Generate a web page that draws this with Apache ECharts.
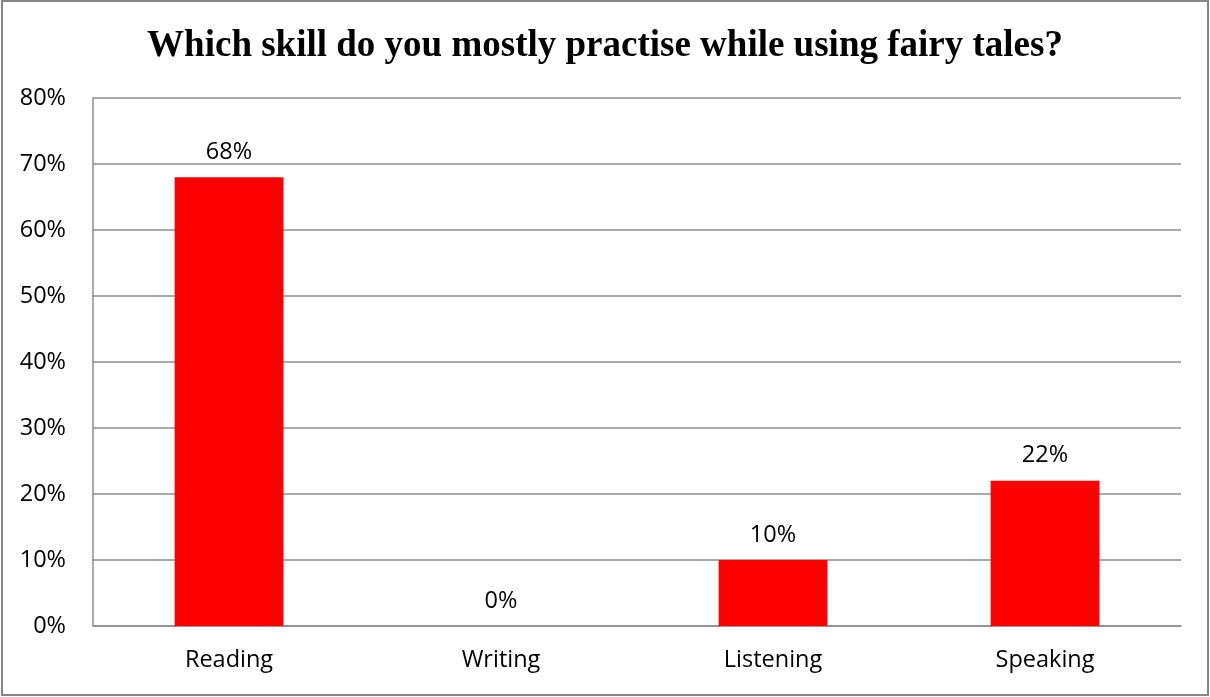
<!DOCTYPE html>
<html>
<head>
<meta charset="utf-8">
<script src="https://cdn.jsdelivr.net/npm/echarts@6/dist/echarts.min.js"></script>
<style>
  html, body { margin: 0; padding: 0; background: #fff; }
  #my-chart { width: 1210px; height: 697px; }
</style>
</head>
<body>
<div id="my-chart"></div>
<script>
var titleText = 'Which skill do you mostly practise while using fairy tales?'
var categories = ['Reading', 'Writing', 'Listening', 'Speaking']
var values = [68, 0, 10, 22]
var yTicks = [0, 10, 20, 30, 40, 50, 60, 70, 80]

var myChart = echarts.init(document.getElementById('my-chart'))
var labelFont = 'Open Sans'

var option = {
  backgroundColor: '#fff',
  animation: false,
  title: {
    text: titleText,
    left: 'center',
    top: 23,
    textStyle: {
      fontFamily: 'Liberation Serif',
      fontWeight: 'bold',
      fontSize: 37,
      color: '#000'
    }
  },
  graphic: [
    {
      type: 'rect',
      shape: { x: 2, y: 1, width: 1206, height: 694 },
      style: { fill: null, stroke: '#878787', lineWidth: 2 }
    }
  ],
  grid: {
    left: 93,
    right: 29,
    top: 98,
    bottom: 71,
    containLabel: false
  },
  xAxis: {
    type: 'category',
    data: categories,
    axisLine: { show: true, lineStyle: { color: '#8c8c8c', width: 1.5 } },
    axisTick: { show: false },
    axisLabel: {
      color: '#000',
      fontFamily: labelFont,
      fontSize: 23.5,
      margin: 22
    }
  },
  yAxis: {
    type: 'value',
    min: yTicks[0],
    max: yTicks[yTicks.length - 1],
    interval: 10,
    axisLine: { show: true, lineStyle: { color: '#8c8c8c', width: 1.5 } },
    axisTick: { show: false },
    splitLine: { lineStyle: { color: '#8c8c8c', width: 1.5 } },
    axisLabel: {
      color: '#000',
      fontFamily: labelFont,
      fontSize: 23.5,
      margin: 27,
      formatter: '{value}%'
    }
  },
  series: [
    {
      type: 'bar',
      data: values,
      barWidth: '40%',
      itemStyle: { color: '#ff0000' },
      label: {
        show: true,
        position: 'top',
        distance: 13,
        color: '#000',
        fontFamily: labelFont,
        fontSize: 23.5,
        formatter: '{c}%'
      }
    }
  ]
}
myChart.setOption(option)
myChart.resize()
</script>
</body>
</html>
